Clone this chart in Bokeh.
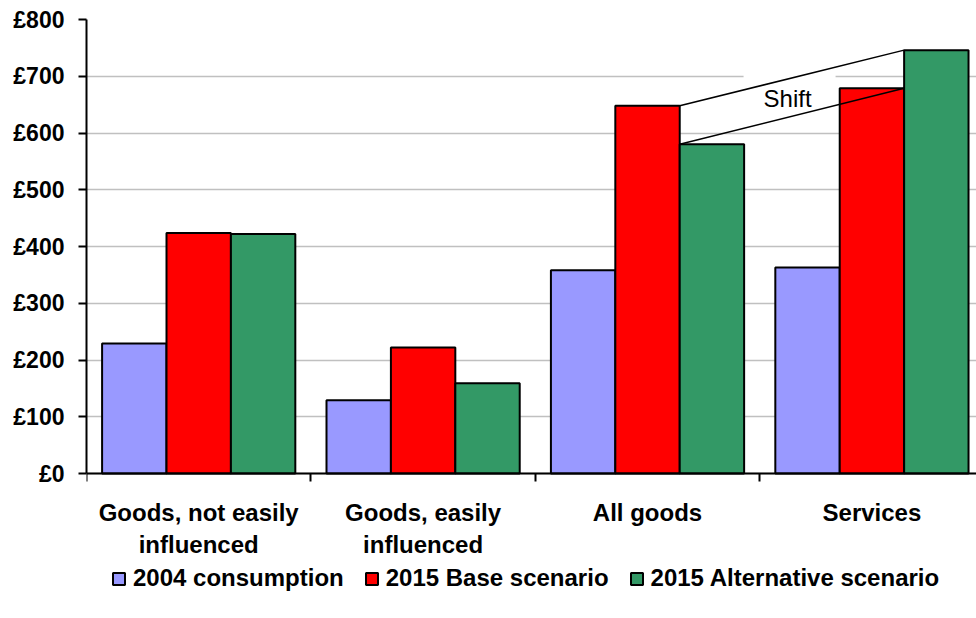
from bokeh.plotting import figure
from bokeh.models import (Range1d, LinearAxis, FixedTicker, Legend, LegendItem,
                          ColumnDataSource, Grid)
from bokeh.core.properties import value
from bokeh.embed import file_html
from bokeh.resources import INLINE

# ---- data ----
categories = ["Goods, not easily\ninfluenced", "Goods, easily\ninfluenced", "All goods", "Services"]
series_names = ["2004 consumption", "2015 Base scenario", "2015 Alternative scenario"]
consumption_2004 = [229, 129, 358, 363]
base_2015 = [424, 222, 648, 679]
alternative_2015 = [422, 159, 580, 746]
y_ticks = [0, 100, 200, 300, 400, 500, 600, 700, 800]
y_tick_labels = ["£0", "£100", "£200", "£300", "£400", "£500", "£600", "£700", "£800"]

colors = ["#9999FF", "#FF0000", "#339966"]
FONT = "Liberation Sans"
BAR_W = 0.287
PX_PER_UNIT = 454 / 800          # plot-area scale: 800 units span 454 px
FRAME_H = 599                    # frame runs to the bottom of the page
Y_MIN = -(FRAME_H - 454) / PX_PER_UNIT   # room below zero for labels and legend

p = figure(frame_width=890, frame_height=FRAME_H, x_range=Range1d(0, 3.966),
           y_range=Range1d(Y_MIN, 800),
           output_backend="svg", toolbar_location=None, x_axis_type=None, y_axis_type=None,
           min_border_left=86, min_border_right=0, min_border_top=19, min_border_bottom=0)
p.outline_line_color = None
p.background_fill_color = "white"
p.border_fill_color = "white"

# axes
yaxis = LinearAxis(ticker=FixedTicker(ticks=y_ticks, minor_ticks=[]), bounds=(0, 800))
yaxis.major_label_overrides = {t: l for t, l in zip(y_ticks, y_tick_labels)}
yaxis.major_label_text_font = FONT
yaxis.major_label_text_font_style = "bold"
yaxis.major_label_text_font_size = "23px"
yaxis.major_label_text_color = "black"
yaxis.major_label_standoff = 14
yaxis.major_tick_out = 8
yaxis.major_tick_in = 0
yaxis.major_tick_line_width = 2
yaxis.axis_line_width = 2
yaxis.axis_line_color = "black"
p.add_layout(yaxis, "left")

centers = [i + 0.5 for i in range(len(categories))]
bounds = [i for i in range(len(categories) + 1)]
xaxis = LinearAxis(ticker=FixedTicker(ticks=centers, minor_ticks=bounds), fixed_location=0)
xaxis.major_label_overrides = {c: l for c, l in zip(centers, categories)}
xaxis.major_label_text_font = FONT
xaxis.major_label_text_font_style = "bold"
xaxis.major_label_text_font_size = "24px"
xaxis.major_label_text_color = "black"
xaxis.major_label_text_line_height = 1.2
xaxis.major_label_standoff = 17
xaxis.major_tick_out = 0
xaxis.major_tick_in = 0
xaxis.minor_tick_out = 8
xaxis.minor_tick_in = 0
xaxis.minor_tick_line_width = 2
xaxis.axis_line_width = 2
xaxis.axis_line_color = "black"
p.add_layout(xaxis, "below")

grid = Grid(dimension=1, ticker=FixedTicker(ticks=y_ticks, minor_ticks=[]),
            grid_line_color="#C0C0C0", grid_line_width=1.5)
p.add_layout(grid)

# bars
series = [consumption_2004, base_2015, alternative_2015]
renderers = []
for k, (vals, col) in enumerate(zip(series, colors)):
    xs = [c + (k - 1) * BAR_W for c in centers]
    src = ColumnDataSource(dict(x=xs, top=vals))
    r = p.vbar(x="x", top="top", bottom=0, width=BAR_W, source=src, fill_color=col,
               line_color="black", line_width=2)
    renderers.append(r)

# "Shift" annotation
box = dict(left=[2.928], right=[3.338], top=[703.5], bottom=[625])
p.quad(**box, fill_color="white", line_color=None)
x_start = centers[2] + BAR_W / 2
x_end = centers[3] + BAR_W / 2
p.segment(x0=[x_start, x_start], y0=[base_2015[2], alternative_2015[2]],
          x1=[x_end, x_end], y1=[alternative_2015[3], base_2015[3]],
          line_color="black", line_width=1.5)
p.text(x=[3.124], y=[661], text=["Shift"], text_font=value(FONT), text_font_size="24px",
       text_align="center", text_baseline="middle", text_color="black")

legend = Legend(items=[LegendItem(label=n, renderers=[r]) for n, r in zip(series_names, renderers)],
                orientation="horizontal", location=(25, 26),
                label_text_font=FONT, label_text_font_style="bold", label_text_font_size="24px",
                label_text_color="black",
                glyph_width=15, glyph_height=15, label_standoff=7, spacing=20,
                padding=0, margin=0, border_line_color=None, background_fill_alpha=0)
p.add_layout(legend, "center")

open("out.html", "w").write(file_html(p, INLINE))
